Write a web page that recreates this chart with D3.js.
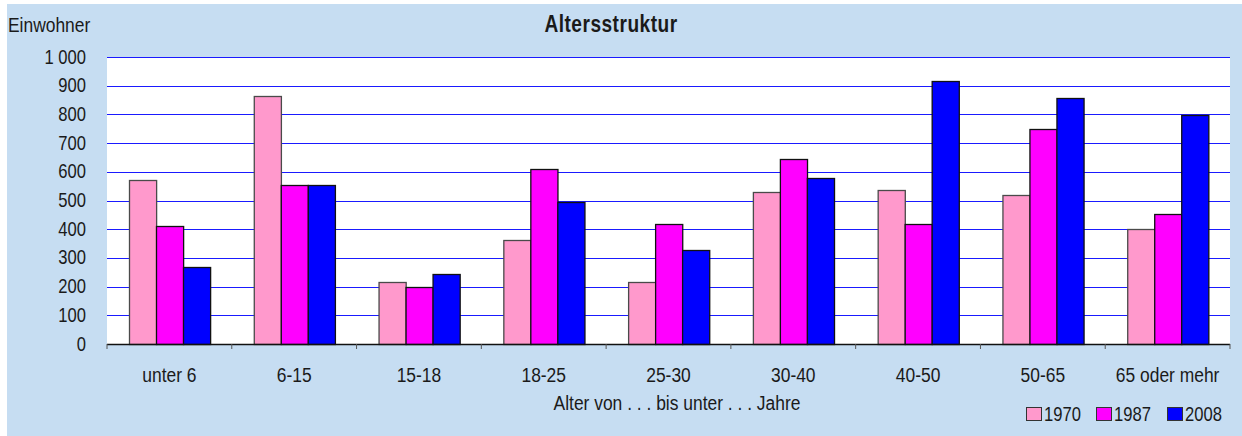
<!DOCTYPE html>
<html>
<head>
<meta charset="utf-8">
<script src="https://cdn.jsdelivr.net/npm/d3@7"></script>
<style>
  html, body { margin: 0; padding: 0; background: #ffffff; }
  svg { display: block; }
  text { font-family: "Liberation Sans", Arial, sans-serif; fill: #1a1a1a; }
</style>
</head>
<body>
<svg id="chart" width="1242" height="436"></svg>
<script>
const categories = ["unter 6", "6-15", "15-18", "18-25", "25-30", "30-40", "40-50", "50-65", "65 oder mehr"];
const years = ["1970", "1987", "2008"];
const values1970 = [570, 863, 217, 361, 217, 529, 536, 520, 402];
const values1987 = [410, 553, 200, 611, 419, 646, 419, 748, 452];
const values2008 = [267, 553, 243, 494, 326, 577, 916, 856, 797];
const yTicks = [0, 100, 200, 300, 400, 500, 600, 700, 800, 900, 1000];
const colors = ["#ff99cc", "#ff00ff", "#0000ff"];

const seriesValues = [values1970, values1987, values2008];
const rows = categories.map((c, i) => ({
  cat: c,
  vals: years.map((yr, j) => ({ year: yr, v: seriesValues[j][i], color: colors[j] })),
}));

// the original uses a narrow font; squeeze Liberation Sans horizontally
const narrow = 0.83;

const svg = d3.select("#chart");
const width = 1242;
const height = 436;

const plot = { left: 107, right: 1230, top: 57, bottom: 344 };

function narrowText(parent, x, y, str) {
  return parent.append("text")
    .attr("transform", `translate(${x},${y}) scale(${narrow},1)`)
    .text(str);
}

svg.append("rect")
  .attr("x", 7).attr("y", 4)
  .attr("width", width - 7).attr("height", height - 4)
  .attr("fill", "#c6ddf2");

svg.append("rect")
  .attr("x", plot.left).attr("y", plot.top)
  .attr("width", plot.right - plot.left).attr("height", plot.bottom - plot.top)
  .attr("fill", "#ffffff");

const x0 = d3.scaleBand().domain(categories).range([plot.left, plot.right]).padding(0);
const x1 = d3.scaleBand().domain(years).range([0, x0.bandwidth()])
  .paddingInner(0).paddingOuter(0.8);
const y = d3.scaleLinear().domain([0, 1000]).range([plot.bottom, plot.top]);

// grid
svg.append("g")
  .selectAll("line")
  .data(yTicks.filter((t) => t > 0))
  .join("line")
  .attr("x1", plot.left).attr("x2", plot.right)
  .attr("y1", (d) => Math.round(y(d)) + 0.5)
  .attr("y2", (d) => Math.round(y(d)) + 0.5)
  .attr("stroke", "#1a1aff")
  .attr("stroke-width", 1);

// y axis labels
const fmtTick = (d) => (d >= 1000 ? d3.format(",")(d).replace(",", " ") : String(d));
const yAxisG = svg.append("g")
  .attr("transform", `translate(${plot.left},0)`)
  .call(d3.axisLeft(y).tickValues(yTicks).tickSize(0).tickPadding(21).tickFormat(fmtTick));
yAxisG.select(".domain").remove();
yAxisG.selectAll("text")
  .attr("font-size", 20)
  .attr("font-family", null)
  .attr("x", -21 / narrow)
  .attr("transform", `scale(${narrow},1)`)
  .attr("dy", "0.3em");

// bars
const groups = svg.append("g")
  .selectAll("g")
  .data(rows)
  .join("g")
  .attr("transform", (d) => `translate(${x0(d.cat)},0)`);

groups.selectAll("rect")
  .data((d) => d.vals)
  .join("rect")
  .attr("x", (d) => Math.round(x1(d.year)) + 0.5)
  .attr("y", (d) => Math.round(y(d.v)) + 0.5)
  .attr("width", x1.bandwidth())
  .attr("height", (d) => y(0) - Math.round(y(d.v)))
  .attr("fill", (d) => d.color)
  .attr("stroke", (d) => (d.year === "1970" ? "#4a4a4a" : "#111"))
  .attr("stroke-width", 1.3);

// x axis
const xAxisG = svg.append("g")
  .attr("transform", `translate(0,${plot.bottom})`)
  .call(d3.axisBottom(x0).tickSize(0).tickPadding(23));
xAxisG.select(".domain").remove();
xAxisG.selectAll("text")
  .attr("font-size", 21)
  .attr("font-family", null)
  .attr("transform", `scale(${narrow},1)`)
  .attr("dy", "0.71em");

svg.append("line")
  .attr("x1", plot.left).attr("x2", plot.right)
  .attr("y1", plot.bottom + 0.5).attr("y2", plot.bottom + 0.5)
  .attr("stroke", "#111").attr("stroke-width", 1.5);

svg.append("g")
  .selectAll("line")
  .data(categories.concat([null]))
  .join("line")
  .attr("x1", (d, i) => plot.left + i * x0.step())
  .attr("x2", (d, i) => plot.left + i * x0.step())
  .attr("y1", plot.bottom).attr("y2", plot.bottom + 5)
  .attr("stroke", "#555").attr("stroke-width", 1);

// texts
narrowText(svg, 611, 32, "Altersstruktur")
  .attr("text-anchor", "middle")
  .attr("font-size", 23)
  .attr("font-weight", "bold")
  .attr("letter-spacing", 0.6);

narrowText(svg, 8, 32, "Einwohner")
  .attr("font-size", 21);

narrowText(svg, 677, 410, "Alter von . . . bis unter . . . Jahre")
  .attr("text-anchor", "middle")
  .attr("font-size", 21);

// legend
const legendX = [1026, 1096, 1167];
const legend = svg.append("g")
  .selectAll("g")
  .data(years)
  .join("g")
  .attr("transform", (d, i) => `translate(${legendX[i]},407)`);

legend.append("rect")
  .attr("x", 0.5).attr("y", 0.5)
  .attr("width", 15).attr("height", 13)
  .attr("fill", (d, i) => colors[i])
  .attr("stroke", "#333");

legend.each(function (d) {
  narrowText(d3.select(this), 18, 14, d).attr("font-size", 20);
});
</script>
</body>
</html>
